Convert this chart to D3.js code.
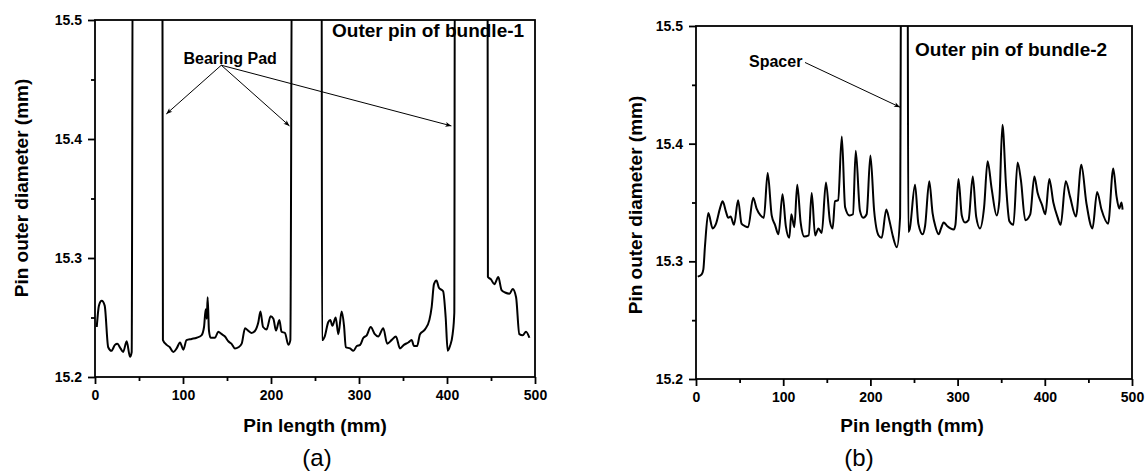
<!DOCTYPE html>
<html>
<head>
<meta charset="utf-8">
<script src="https://cdn.jsdelivr.net/npm/d3@7"></script>
<style>
  body { margin: 0; background: #fff; }
  svg { display: block; font-family: Arial, "Liberation Sans", sans-serif; }
  .tick text { font-size: 14px; font-weight: bold; fill: #000; }
  .tick line { stroke: #000; stroke-width: 1.8; }
  .axis-title { font-size: 19px; font-weight: bold; }
  .note { font-size: 16px; font-weight: bold; }
  .panel-title { font-size: 19px; font-weight: bold; }
  .panel-tag { font-size: 24px; }
</style>
</head>
<body>
<div id="wrapper"></div>
<script>
// tick labels
const xTicks = [0, 100, 200, 300, 400, 500]
const xMinorTicks = [50, 150, 250, 350, 450]
const yTicks = [15.2, 15.3, 15.4, 15.5]
const yMinorTicks = [15.25, 15.35, 15.45]

// (a) outer pin of bundle-1, values above 15.5 are the off-scale bearing pads
const bundle1Length = [
  2, 4.5, 7.6, 11, 15, 18.6, 22.7, 25.4, 29, 32, 36, 39.8, 41.7, 43,
  76.5, 77.2, 81.4, 85, 89, 92.8, 96.6, 100.4, 104, 109.8, 115.5, 121, 123.9, 125.8, 127, 128,
  129.5, 131.4, 136.4, 140, 144, 147.7, 151.5, 155, 159, 163, 166.7, 170.5, 174, 178, 182,
  185.6, 188, 191, 195, 199.6, 202.7, 205.7, 209.5, 212, 215.9, 219.7, 222, 224,
  257.5, 258, 261, 265, 267.4, 269.7, 273.5, 276.5, 280.3, 283, 285, 289.8, 293.6, 297.5,
  301.3, 305, 308.8, 313.3, 318, 321.8, 327.6, 332, 337, 342, 346.6, 351, 356, 359.8, 362.5,
  366, 369.3, 375, 380, 382.6, 385.2, 388, 390.8, 395.6, 398.5, 400.8, 403.4, 406.4, 408.3, 409,
  446, 446.5, 450, 453.8, 458.3, 462, 466, 471, 474.7, 478.5, 482.2, 486, 489.8, 493.6
]
const bundle1Diameter = [
  15.242, 15.260, 15.264, 15.260, 15.225, 15.222, 15.227, 15.228, 15.224, 15.221, 15.230, 15.217, 15.221, 15.6,
  15.6, 15.231, 15.227, 15.225, 15.221, 15.224, 15.229, 15.223, 15.231, 15.232, 15.233, 15.235, 15.242, 15.257, 15.249, 15.267,
  15.239, 15.233, 15.233, 15.238, 15.236, 15.234, 15.230, 15.228, 15.224, 15.225, 15.228, 15.241, 15.239, 15.237, 15.239,
  15.246, 15.255, 15.242, 15.240, 15.251, 15.249, 15.239, 15.248, 15.238, 15.237, 15.227, 15.231, 15.6,
  15.6, 15.231, 15.234, 15.246, 15.248, 15.243, 15.250, 15.236, 15.255, 15.243, 15.225, 15.224, 15.222, 15.226,
  15.227, 15.233, 15.235, 15.242, 15.236, 15.234, 15.241, 15.228, 15.231, 15.234, 15.224, 15.227, 15.229, 15.231, 15.226,
  15.226, 15.236, 15.240, 15.248, 15.259, 15.278, 15.281, 15.275, 15.272, 15.250, 15.222, 15.226, 15.236, 15.254, 15.6,
  15.6, 15.284, 15.282, 15.278, 15.284, 15.273, 15.271, 15.270, 15.274, 15.267, 15.236, 15.235, 15.238, 15.233
]

// (b) outer pin of bundle-2, the spacer goes off scale
const bundle2Length = [
  2, 6.5, 8.4, 10.3, 14.1, 19.1, 23, 27.5, 30.6, 34.4, 37, 39.7, 43.6, 48.3, 52.2, 56, 59.8,
  65.6, 69.4, 74, 77.8, 82.2, 86.8, 90.6, 94.6, 99.2, 103, 107, 109.3, 112.8, 116.1, 120,
  124.2, 129.2, 132.7, 136.6, 140.4, 144.2, 149, 153.6, 156.7, 159.4, 163, 167.2, 171, 176,
  180, 183.2, 188, 191.8, 195.7, 200, 204.3, 209.4, 213, 218.2, 221.7, 225.9, 230.3, 234,
  235.5, 242.5, 243.5, 245, 251.2, 255, 260, 262.7, 267.5, 271.3, 274.4, 278.3, 281, 284,
  288, 291.8, 295.6, 297.5, 301, 304.8, 308.6, 312.5, 317.4, 321.3, 325.7, 330.4, 334.4, 339,
  344.8, 347.8, 351.4, 355.6, 359.4, 364, 368.8, 372.6, 377.6, 383.3, 388, 391.8, 396.8,
  400.6, 405.2, 409.8, 414.4, 418.2, 424, 428.9, 435.7, 441.9, 447.6, 454.7, 460, 465,
  472.6, 478.5, 482.3, 485.4, 488, 489.2
]
const bundle2Diameter = [
  15.287, 15.289, 15.293, 15.313, 15.341, 15.328, 15.332, 15.345, 15.351, 15.342, 15.337, 15.338, 15.331, 15.352, 15.332, 15.330, 15.329,
  15.354, 15.345, 15.339, 15.337, 15.375, 15.339, 15.331, 15.323, 15.357, 15.330, 15.320, 15.340, 15.329, 15.365, 15.333,
  15.321, 15.322, 15.358, 15.322, 15.328, 15.324, 15.367, 15.334, 15.328, 15.351, 15.352, 15.406, 15.346, 15.339,
  15.340, 15.394, 15.343, 15.337, 15.340, 15.390, 15.343, 15.322, 15.320, 15.344, 15.335, 15.321, 15.312, 15.337,
  15.6, 15.6, 15.325, 15.327, 15.365, 15.332, 15.323, 15.330, 15.368, 15.341, 15.330, 15.323, 15.328, 15.333,
  15.330, 15.328, 15.327, 15.331, 15.370, 15.339, 15.333, 15.335, 15.372, 15.338, 15.328, 15.346, 15.385, 15.362,
  15.339, 15.351, 15.416, 15.364, 15.334, 15.331, 15.384, 15.369, 15.335, 15.340, 15.372, 15.358, 15.348,
  15.340, 15.370, 15.350, 15.338, 15.331, 15.368, 15.355, 15.338, 15.382, 15.350, 15.328, 15.359, 15.344,
  15.332, 15.379, 15.355, 15.345, 15.350, 15.344
]

const wrapper = d3.select("#wrapper")
  .append("svg")
    .attr("width", 1146)
    .attr("height", 473)

const defs = wrapper.append("defs")
defs.append("marker")
    .attr("id", "arrow")
    .attr("viewBox", "0 0 10 10")
    .attr("refX", 10)
    .attr("refY", 5)
    .attr("markerWidth", 8)
    .attr("markerHeight", 6)
    .attr("markerUnits", "userSpaceOnUse")
    .attr("orient", "auto")
  .append("path")
    .attr("d", "M0,1 L10,5 L0,9 L2.5,5 Z")
    .attr("fill", "#000")

function drawPanel(opts) {
  const dims = opts.dims
  const dataset = d3.zip(opts.xs, opts.ys)

  const bounds = wrapper.append("g")
      .attr("transform", `translate(${dims.left}, ${dims.top})`)

  const xScale = d3.scaleLinear()
    .domain([0, 500])
    .range([0, dims.width])

  const yScale = d3.scaleLinear()
    .domain([15.2, 15.5])
    .range([dims.height, 0])

  defs.append("clipPath")
      .attr("id", opts.id + "-clip")
    .append("rect")
      .attr("width", dims.width)
      .attr("height", dims.height)

  // data line
  const lineGenerator = d3.line()
    .x(d => xScale(d[0]))
    .y(d => yScale(d[1]))
    .curve(d3.curveMonotoneX)

  bounds.append("path")
      .attr("clip-path", `url(#${opts.id}-clip)`)
      .attr("d", lineGenerator(dataset))
      .attr("fill", "none")
      .attr("stroke", "#000")
      .attr("stroke-width", 2)
      .attr("stroke-linejoin", "round")

  // frame
  bounds.append("rect")
      .attr("width", dims.width)
      .attr("height", dims.height)
      .attr("fill", "none")
      .attr("stroke", "#000")
      .attr("stroke-width", 1.8)

  // axes
  bounds.append("g")
    .call(d3.axisLeft(yScale).tickValues(yTicks).tickSize(7).tickPadding(6).tickFormat(d3.format(".1f")))
  bounds.append("g")
    .call(d3.axisLeft(yScale).tickValues(yMinorTicks).tickSize(4).tickFormat(""))

  bounds.append("g")
      .attr("transform", `translate(0, ${dims.height})`)
    .call(d3.axisBottom(xScale).tickValues(xTicks).tickSize(7).tickPadding(6))
  bounds.append("g")
      .attr("transform", `translate(0, ${dims.height})`)
    .call(d3.axisBottom(xScale).tickValues(xMinorTicks).tickSize(4).tickFormat(""))

  bounds.selectAll(".domain").remove()

  // titles
  wrapper.append("text")
      .attr("class", "axis-title")
      .attr("text-anchor", "middle")
      .attr("transform", `translate(${opts.yTitle[0]}, ${opts.yTitle[1]}) rotate(-90)`)
      .text("Pin outer diameter (mm)")

  wrapper.append("text")
      .attr("class", "axis-title")
      .attr("text-anchor", "middle")
      .attr("x", opts.xTitle[0])
      .attr("y", opts.xTitle[1])
      .text("Pin length (mm)")

  wrapper.append("text")
      .attr("class", "panel-title")
      .attr("x", opts.title[0])
      .attr("y", opts.title[1])
      .text(opts.titleText)

  wrapper.append("text")
      .attr("class", "panel-tag")
      .attr("text-anchor", "middle")
      .attr("x", opts.tag[0])
      .attr("y", opts.tag[1])
      .text(opts.tagText)

  return { bounds, xScale, yScale }
}

// (a)
const panelA = drawPanel({
  id: "a",
  dims: { left: 95, top: 20, width: 440, height: 357 },
  xs: bundle1Length,
  ys: bundle1Diameter,
  yTitle: [28, 188],
  xTitle: [315, 432],
  title: [332, 37],
  titleText: "Outer pin of bundle-1",
  tag: [317, 466],
  tagText: "(a)",
})

panelA.bounds.append("text")
    .attr("class", "note")
    .attr("x", panelA.xScale(100.5))
    .attr("y", panelA.yScale(15.463))
    .text("Bearing Pad")

const padTargets = [[81, 15.421], [221, 15.411], [405, 15.411]]
panelA.bounds.selectAll(".pad-arrow")
  .data(padTargets)
  .join("line")
    .attr("class", "pad-arrow")
    .attr("x1", panelA.xScale(143.5))
    .attr("y1", panelA.yScale(15.462))
    .attr("x2", d => panelA.xScale(d[0]))
    .attr("y2", d => panelA.yScale(d[1]))
    .attr("stroke", "#000")
    .attr("stroke-width", 1)
    .attr("marker-end", "url(#arrow)")

// (b)
const panelB = drawPanel({
  id: "b",
  dims: { left: 696, top: 26, width: 436, height: 353 },
  xs: bundle2Length,
  ys: bundle2Diameter,
  yTitle: [642, 205],
  xTitle: [912, 432],
  title: [915, 56],
  titleText: "Outer pin of bundle-2",
  tag: [859, 466],
  tagText: "(b)",
})

panelB.bounds.append("text")
    .attr("class", "note")
    .attr("x", panelB.xScale(60.8))
    .attr("y", panelB.yScale(15.465))
    .text("Spacer")

panelB.bounds.append("line")
    .attr("x1", panelB.xScale(125))
    .attr("y1", panelB.yScale(15.469))
    .attr("x2", panelB.xScale(234))
    .attr("y2", panelB.yScale(15.431))
    .attr("stroke", "#000")
    .attr("stroke-width", 1)
    .attr("marker-end", "url(#arrow)")
</script>
</body>
</html>
